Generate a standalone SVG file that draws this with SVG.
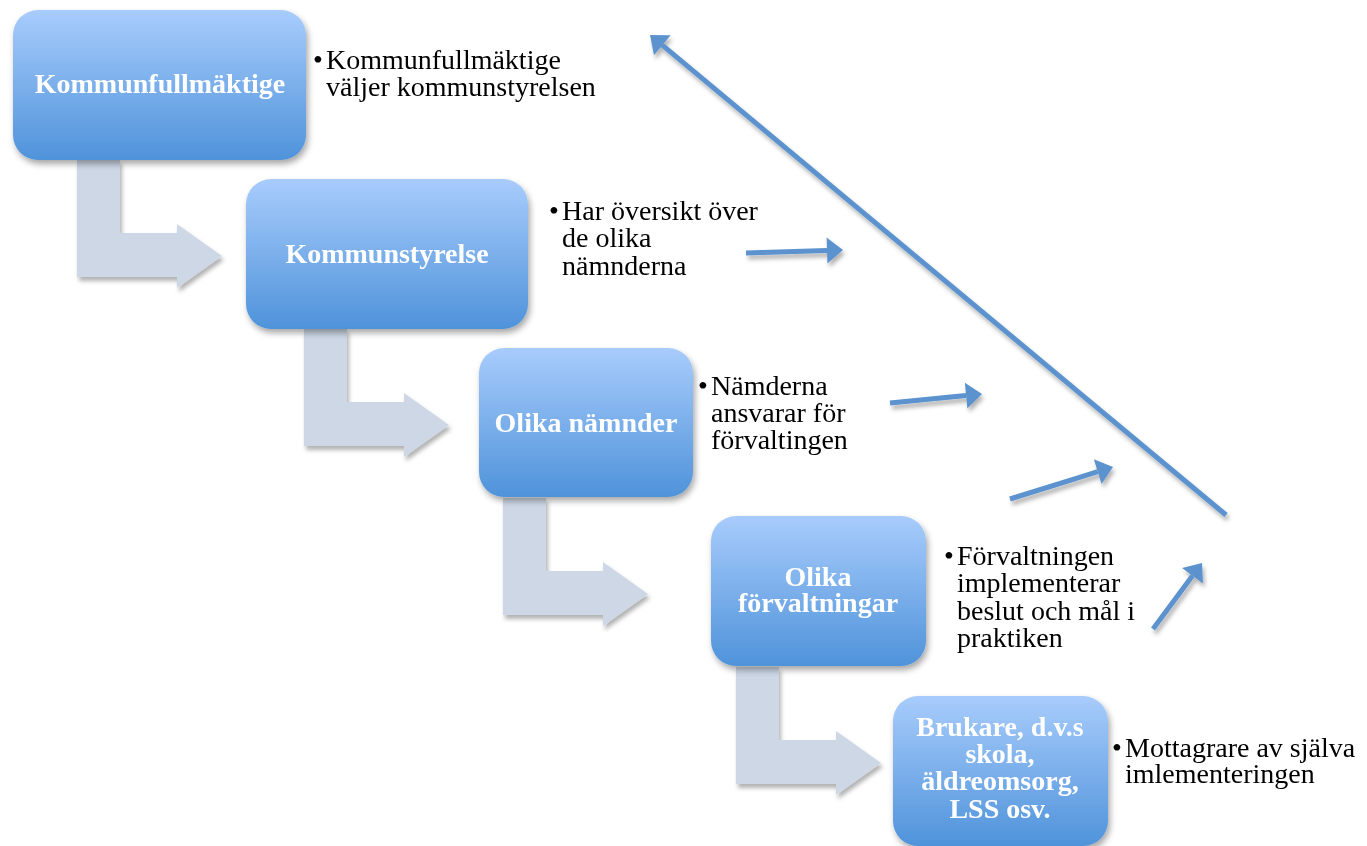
<svg xmlns="http://www.w3.org/2000/svg" width="1367" height="846" viewBox="0 0 1367 846">
<style>
.box{fill:url(#g);filter:url(#sh)}
.bt{font-family:"Liberation Serif","Times New Roman",serif;font-weight:bold;font-size:28px;fill:#fff;text-anchor:middle}
.tx{font-family:"Liberation Serif","Times New Roman",serif;font-size:28px;fill:#000}
.elb{fill:#cdd7e5}
.ar{stroke:#5b93cf;stroke-width:5;fill:none;marker-end:url(#ah)}
</style>
<defs>
<linearGradient id="g" x1="0" y1="0" x2="0" y2="1">
<stop offset="0" stop-color="#a8ccfc"/>
<stop offset="1" stop-color="#4f93da"/>
</linearGradient>
<filter id="sh" x="-10%" y="-10%" width="130%" height="130%">
<feDropShadow dx="2" dy="4" stdDeviation="3" flood-color="#000" flood-opacity="0.35"/>
</filter>
<filter id="sh2" x="-10%" y="-10%" width="130%" height="130%">
<feDropShadow dx="2" dy="4" stdDeviation="2" flood-color="#000" flood-opacity="0.3"/>
</filter>
<marker id="ah" markerUnits="userSpaceOnUse" orient="auto" refX="0" refY="0" markerWidth="40" markerHeight="40" viewBox="-2 -20 40 40" overflow="visible">
<path d="M0,-13 L16,0 L0,13 z" fill="#5b93cf"/>
</marker>
<polygon id="elbow" points="77,160 120,160 120,233 177,233 177,224 222,256 177,288 177,277 77,277"/>
</defs>

<g id="elbows" class="elb" filter="url(#sh2)">
<use href="#elbow"/>
<use href="#elbow" transform="translate(227,169)"/>
<use href="#elbow" transform="translate(426,338)"/>
<use href="#elbow" transform="translate(659,507)"/>
</g>

<g id="n1">
<rect class="box" x="13" y="10" width="293" height="150" rx="25"/>
<text class="bt" x="160" y="93">Kommunfullmäktige</text>
</g>
<g id="n2">
<rect class="box" x="246" y="179" width="282" height="150" rx="25"/>
<text class="bt" x="387" y="263">Kommunstyrelse</text>
</g>
<g id="n3">
<rect class="box" x="479" y="348" width="214" height="149" rx="25"/>
<text class="bt" x="586" y="432">Olika nämnder</text>
</g>
<g id="n4">
<rect class="box" x="711" y="516" width="215" height="150" rx="25"/>
<text class="bt" x="818" y="586">Olika</text>
<text class="bt" x="818" y="612">förvaltningar</text>
</g>
<g id="n5">
<rect class="box" x="893" y="696" width="215" height="150" rx="25"/>
<text class="bt" x="1000" y="736">Brukare, d.v.s</text>
<text class="bt" x="1000" y="763">skola,</text>
<text class="bt" x="1000" y="790">äldreomsorg,</text>
<text class="bt" x="1000" y="818">LSS osv.</text>
</g>

<g id="t1" class="tx">
<text y="69"><tspan x="313">•</tspan><tspan x="326">Kommunfullmäktige</tspan></text>
<text x="326" y="96">väljer kommunstyrelsen</text>
</g>
<g id="t2" class="tx">
<text y="220"><tspan x="549">•</tspan><tspan x="562">Har översikt över</tspan></text>
<text x="562" y="247">de olika</text>
<text x="562" y="275">nämnderna</text>
</g>
<g id="t3" class="tx">
<text y="395"><tspan x="698">•</tspan><tspan x="711">Nämderna</tspan></text>
<text x="711" y="422">ansvarar för</text>
<text x="711" y="449">förvaltingen</text>
</g>
<g id="t4" class="tx">
<text y="565"><tspan x="944">•</tspan><tspan x="957">Förvaltningen</tspan></text>
<text x="957" y="592">implementerar</text>
<text x="957" y="620">beslut och mål i</text>
<text x="957" y="647">praktiken</text>
</g>
<g id="t5" class="tx">
<text y="757"><tspan x="1112">•</tspan><tspan x="1125">Mottagrare av själva</tspan></text>
<text x="1125" y="783">imlementeringen</text>
</g>

<g id="connectors" filter="url(#sh2)">
<path class="ar" d="M1226,515 L662.3,45.2"/>
<path class="ar" d="M746,253 L827,250.5"/>
<path class="ar" d="M890,403 L966.1,395.6"/>
<path class="ar" d="M1010,499 L1097.7,471.7"/>
<path class="ar" d="M1153,629 L1192.5,575.8"/>
</g>
</svg>
